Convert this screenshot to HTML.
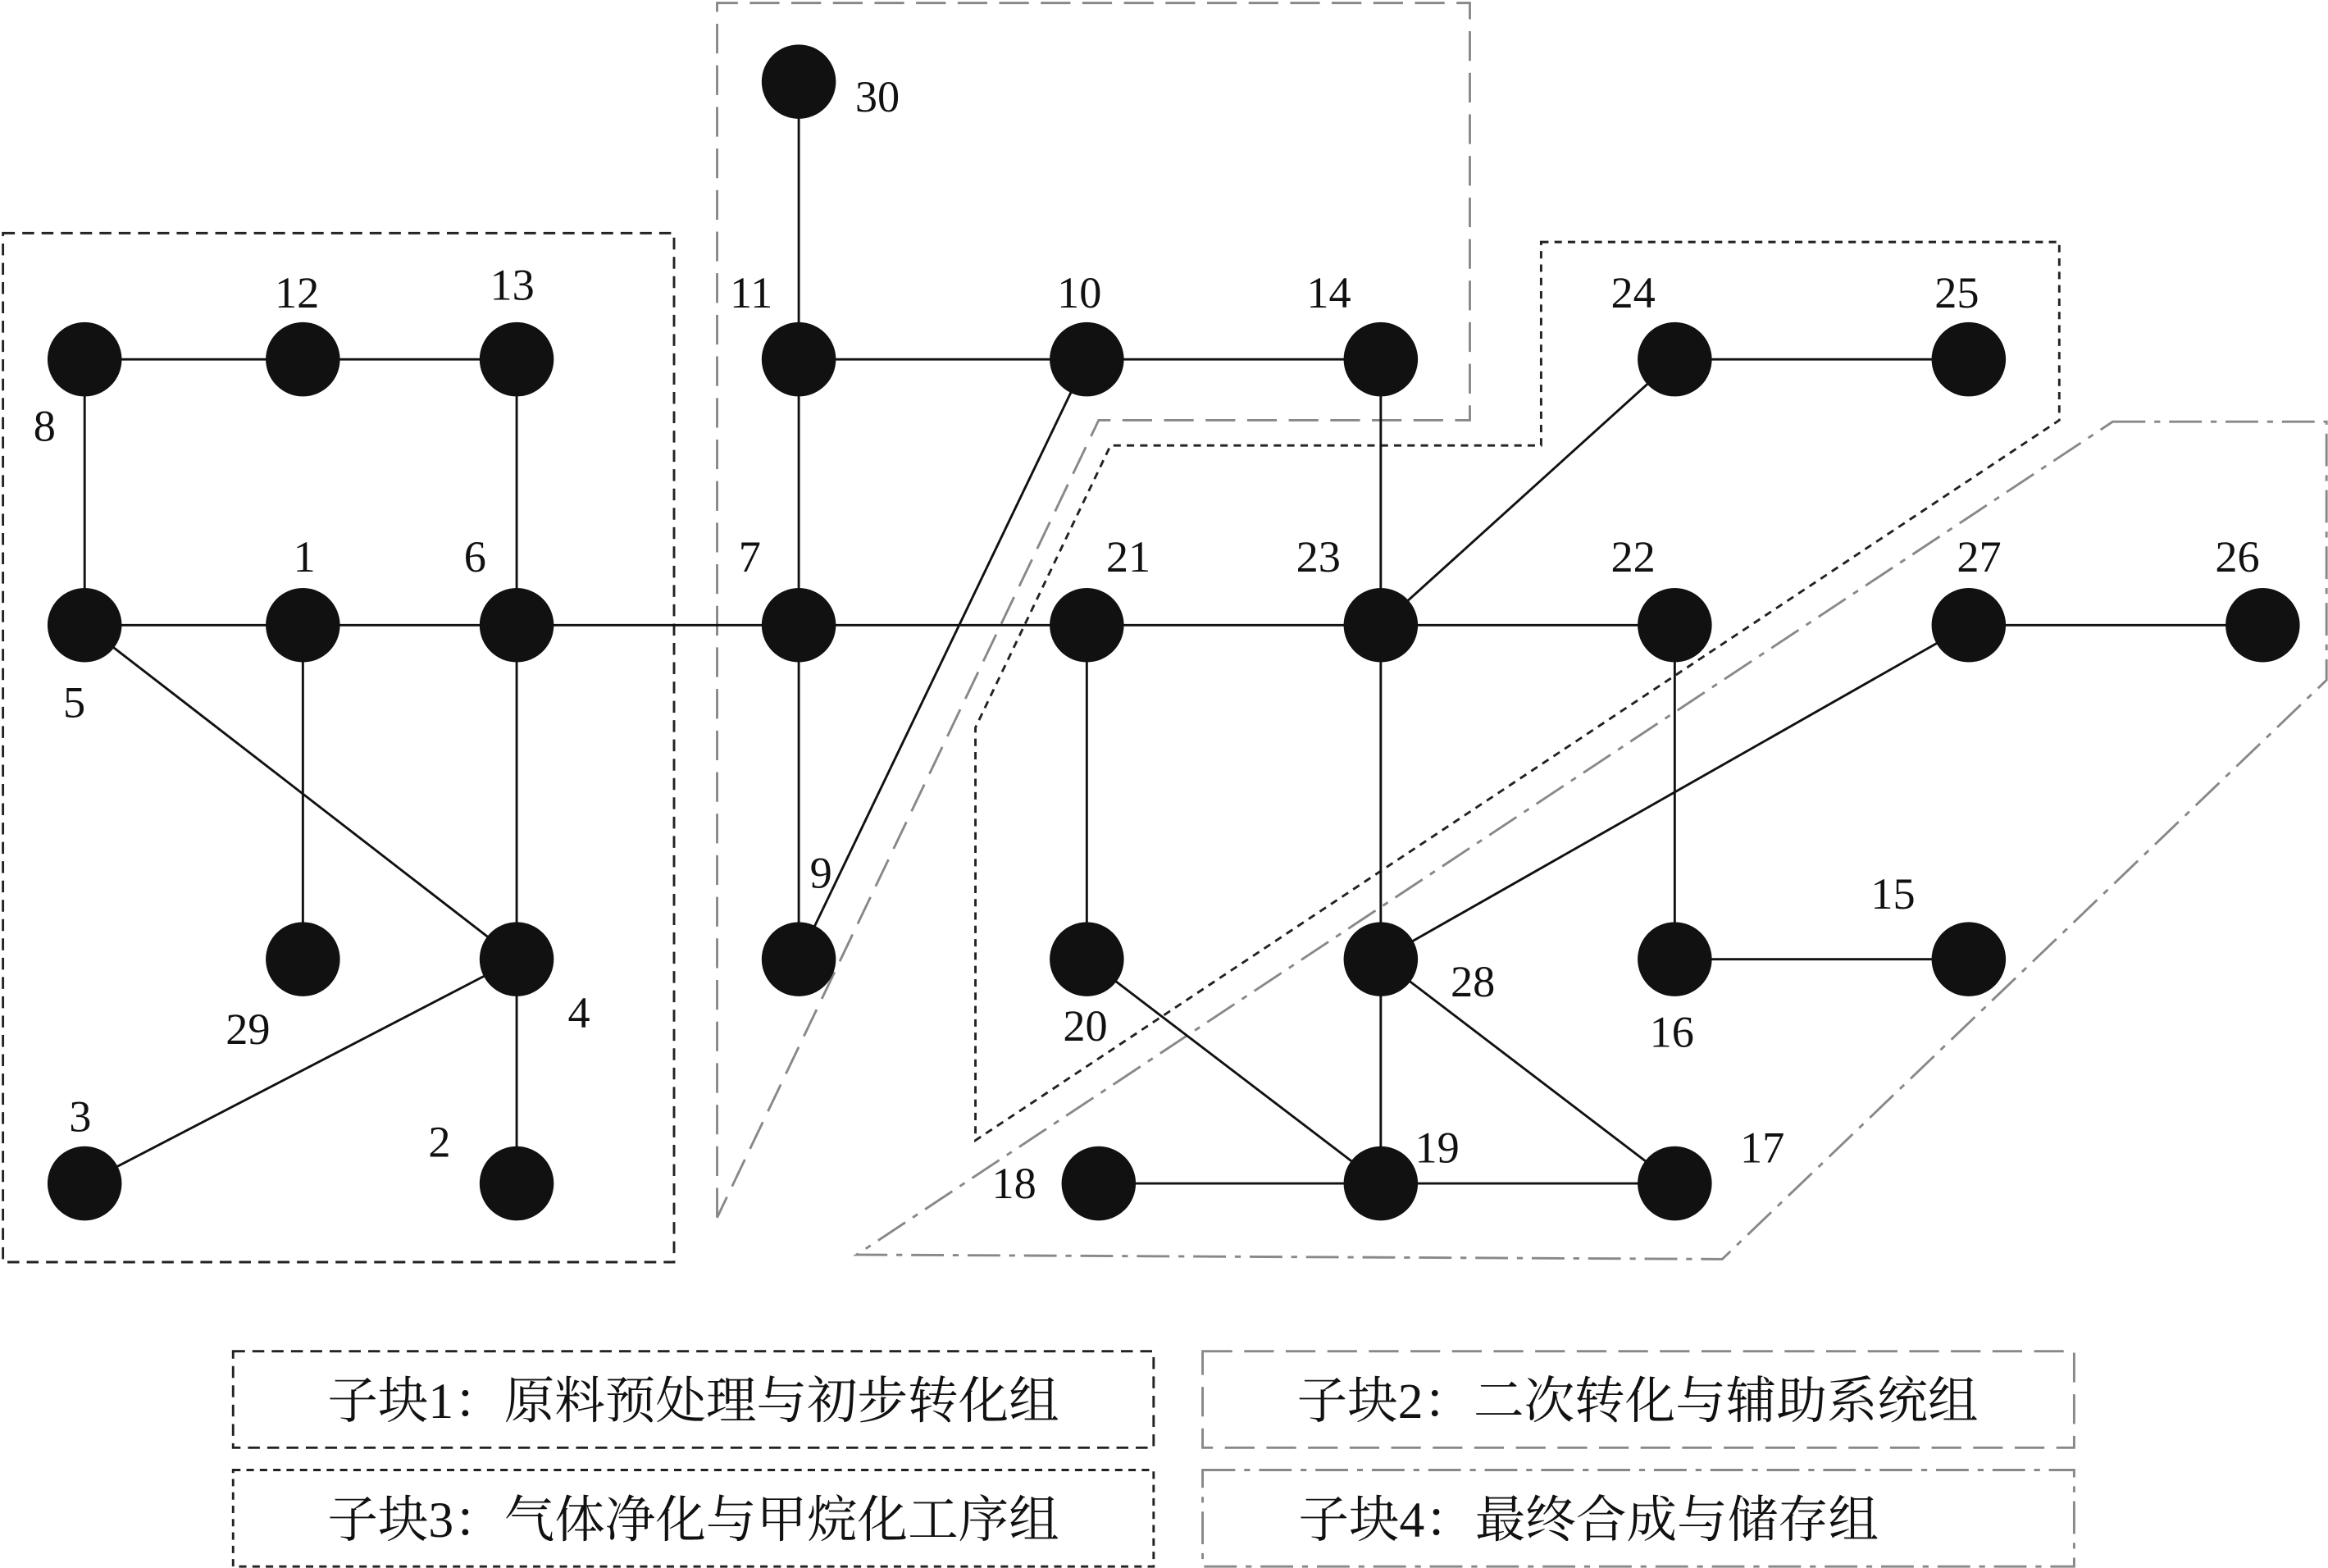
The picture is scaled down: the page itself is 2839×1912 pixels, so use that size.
<!DOCTYPE html>
<html><head><meta charset="utf-8"><style>html,body{margin:0;padding:0;background:#fff}svg{display:block}</style></head>
<body>
<svg width="2839" height="1912" viewBox="0 0 1568 1056" xmlns="http://www.w3.org/2000/svg">
<rect width="1568" height="1056" fill="#fff"/>
<g fill="none" stroke-width="1.6">
<rect x="2" y="157" width="452" height="693" stroke="#222" stroke-dasharray="8,5"/>
<path d="M483,820 L483,2 L990,2 L990,283 L740,283 L483,820" stroke="#888" stroke-dasharray="20,8"/>
<path d="M1038,163 L1387,163 L1387,283 L657,768 L657,490 L748,300 L1038,300 Z" stroke="#222" stroke-dasharray="5,4"/>
<path d="M1423,284 L1567,284 L1567,458 L1160,848 L577,845 Z" stroke="#888" stroke-dasharray="22,6,4,6"/>
</g>
<g stroke="#111" stroke-width="1.6">
<line x1="538" y1="55" x2="538" y2="242"/>
<line x1="538" y1="242" x2="930" y2="242"/>
<line x1="1128" y1="242" x2="1326" y2="242"/>
<line x1="57" y1="242" x2="348" y2="242"/>
<line x1="57" y1="242" x2="57" y2="421"/>
<line x1="348" y1="242" x2="348" y2="421"/>
<line x1="57" y1="421" x2="1128" y2="421"/>
<line x1="1326" y1="421" x2="1524" y2="421"/>
<line x1="538" y1="242" x2="538" y2="646"/>
<line x1="732" y1="242" x2="538" y2="646"/>
<line x1="930" y1="242" x2="930" y2="646"/>
<line x1="1128" y1="242" x2="930" y2="421"/>
<line x1="57" y1="421" x2="348" y2="646"/>
<line x1="204" y1="421" x2="204" y2="646"/>
<line x1="348" y1="421" x2="348" y2="797"/>
<line x1="348" y1="646" x2="57" y2="797"/>
<line x1="732" y1="421" x2="732" y2="646"/>
<line x1="1128" y1="421" x2="1128" y2="646"/>
<line x1="1326" y1="421" x2="930" y2="646"/>
<line x1="1128" y1="646" x2="1326" y2="646"/>
<line x1="732" y1="646" x2="930" y2="797"/>
<line x1="930" y1="646" x2="930" y2="797"/>
<line x1="930" y1="646" x2="1128" y2="797"/>
<line x1="740" y1="797" x2="1128" y2="797"/>
</g>
<g fill="#111">
<circle cx="538" cy="55" r="25"/>
<circle cx="538" cy="242" r="25"/><circle cx="732" cy="242" r="25"/><circle cx="930" cy="242" r="25"/><circle cx="1128" cy="242" r="25"/><circle cx="1326" cy="242" r="25"/>
<circle cx="57" cy="242" r="25"/><circle cx="204" cy="242" r="25"/><circle cx="348" cy="242" r="25"/>
<circle cx="57" cy="421" r="25"/><circle cx="204" cy="421" r="25"/><circle cx="348" cy="421" r="25"/><circle cx="538" cy="421" r="25"/><circle cx="732" cy="421" r="25"/><circle cx="930" cy="421" r="25"/><circle cx="1128" cy="421" r="25"/><circle cx="1326" cy="421" r="25"/><circle cx="1524" cy="421" r="25"/>
<circle cx="204" cy="646" r="25"/><circle cx="348" cy="646" r="25"/><circle cx="538" cy="646" r="25"/><circle cx="732" cy="646" r="25"/><circle cx="930" cy="646" r="25"/><circle cx="1128" cy="646" r="25"/><circle cx="1326" cy="646" r="25"/>
<circle cx="57" cy="797" r="25"/><circle cx="348" cy="797" r="25"/><circle cx="740" cy="797" r="25"/><circle cx="930" cy="797" r="25"/><circle cx="1128" cy="797" r="25"/>
</g>
<g font-family="Liberation Serif, serif" font-size="30" fill="#111" text-anchor="middle">
<text x="591" y="75">30</text>
<text x="506" y="207">11</text><text x="727" y="207">10</text><text x="895" y="207">14</text><text x="1100" y="207">24</text><text x="1318" y="207">25</text>
<text x="200" y="207">12</text><text x="345" y="202">13</text><text x="30" y="297">8</text>
<text x="205" y="385">1</text><text x="320" y="385">6</text><text x="505" y="385">7</text><text x="760" y="385">21</text><text x="888" y="385">23</text><text x="1100" y="385">22</text><text x="1333" y="385">27</text><text x="1507" y="385">26</text>
<text x="50" y="483">5</text><text x="167" y="703">29</text><text x="390" y="692">4</text><text x="553" y="598">9</text><text x="731" y="701">20</text><text x="992" y="671">28</text><text x="1126" y="705">16</text><text x="1275" y="612">15</text>
<text x="54" y="762">3</text><text x="296" y="779">2</text><text x="683" y="807">18</text><text x="968" y="783">19</text><text x="1187" y="783">17</text>
</g>
<g fill="none" stroke-width="1.6">
<rect x="157" y="910" width="620" height="65" stroke="#222" stroke-dasharray="8,5"/>
<rect x="810" y="910" width="587" height="65" stroke="#888" stroke-dasharray="20,8"/>
<rect x="157" y="990" width="620" height="65" stroke="#222" stroke-dasharray="5,4"/>
<rect x="810" y="990" width="587" height="65" stroke="#888" stroke-dasharray="22,6,4,6"/>
</g>
<g font-family="Liberation Serif, 'Noto Serif CJK SC', serif" font-size="34" fill="#111" text-anchor="middle">
<text x="467" y="955">子块1：原料预处理与初步转化组</text>
<text x="1103" y="955">子块2：二次转化与辅助系统组</text>
<text x="467" y="1035">子块3：气体净化与甲烷化工序组</text>
<text x="1070" y="1035">子块4：最终合成与储存组</text>
</g>
</svg>
</body></html>
